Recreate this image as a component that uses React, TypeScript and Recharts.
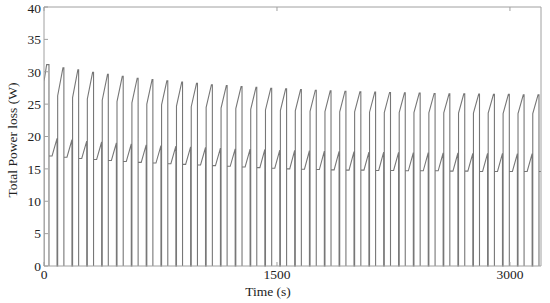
import { LineChart, Line, XAxis, YAxis } from 'recharts'

// times (s) where each tall pulse ends and the next short pulse starts
const dropTimes = [
  32, 128, 223, 319, 414, 510, 606, 701, 797, 892, 988, 1084, 1179, 1275, 1370, 1466, 1562,
  1657, 1753, 1848, 1944, 2040, 2135, 2231, 2326, 2422, 2518, 2613, 2709, 2804, 2900, 2996,
  3091, 3187,
]

// tall pulse: level after the vertical rise, and peak reached before the drop
const tallKink = [
  28.5, 26.3, 26.0, 25.8, 25.6, 25.4, 25.2, 25.0, 24.9, 24.7, 24.6, 24.5, 24.4, 24.3, 24.2, 24.1,
  24.0, 23.95, 23.9, 23.85, 23.8, 23.8, 23.75, 23.7, 23.7, 23.7, 23.65, 23.65, 23.6, 23.6, 23.6,
  23.55, 23.55, 23.55,
]
const tallPeak = [
  31.1, 30.6, 30.3, 29.9, 29.6, 29.3, 29.0, 28.8, 28.6, 28.4, 28.2, 28.0, 27.85, 27.7, 27.6, 27.45,
  27.35, 27.25, 27.15, 27.05, 27.0, 26.9, 26.85, 26.8, 26.75, 26.7, 26.65, 26.6, 26.6, 26.55, 26.5,
  26.5, 26.45, 26.45,
]

// short pulse: flat level, then peak before dropping
const shortLevel = [
  17.0, 16.8, 16.6, 16.45, 16.3, 16.15, 16.0, 15.9, 15.8, 15.7, 15.6, 15.5, 15.4, 15.3, 15.2, 15.1,
  15.0, 14.95, 14.9, 14.85, 14.8, 14.8, 14.75, 14.75, 14.7, 14.7, 14.7, 14.65, 14.65, 14.6, 14.6,
  14.6, 14.6, 14.6,
]
const shortPeak = [
  19.7, 19.5, 19.3, 19.15, 19.0, 18.85, 18.7, 18.6, 18.5, 18.4, 18.3, 18.2, 18.1, 18.05, 18.0, 17.9,
  17.85, 17.8, 17.75, 17.7, 17.65, 17.6, 17.6, 17.55, 17.5, 17.5, 17.45, 17.45, 17.4, 17.4, 17.4,
  17.35, 17.35,
]

// seconds after a drop: short ramp start, short peak, tall rise, tall peak
const phase = [20, 52, 56, 90]
const firstPeakTimes = [17, 28]
const endTime = 3200

const xTicks = [0, 1500, 3000]
const yTicks = [0, 5, 10, 15, 20, 25, 30, 35, 40]

type Pt = { t: number; p: number }

function buildSeries(): Pt[] {
  const pts: Pt[] = [
    { t: 0, p: 0 },
    { t: 0, p: tallKink[0] },
    { t: firstPeakTimes[0], p: tallPeak[0] },
    { t: firstPeakTimes[1], p: tallPeak[0] },
  ]
  dropTimes.forEach((d, k) => {
    pts.push({ t: d, p: k === 0 ? tallPeak[0] : tallPeak[k] })
    pts.push({ t: d, p: 0 })
    pts.push({ t: d, p: shortLevel[k] })
    if (k < dropTimes.length - 1) {
      pts.push({ t: d + phase[0], p: shortLevel[k] })
      pts.push({ t: d + phase[1], p: shortPeak[k] })
      pts.push({ t: d + phase[1], p: 0 })
      pts.push({ t: d + phase[2], p: 0 })
      pts.push({ t: d + phase[2], p: tallKink[k + 1] })
      pts.push({ t: d + phase[3], p: tallPeak[k + 1] })
    } else {
      pts.push({ t: endTime, p: shortLevel[k] })
    }
  })
  return pts
}

const data = buildSeries()

const font = '"Liberation Serif", "DejaVu Serif", serif'
const axisColor = '#a0a0a0'
const tickStyle = { fill: '#222', fontSize: 13.5, fontFamily: font }

export default function App() {
  return (
    <div style={{ position: 'absolute', left: 0, top: 0, background: '#fff' }}>
      <LineChart width={550} height={303} data={data} margin={{ top: 6, right: 8, bottom: 0, left: 0 }}>
        <XAxis
          xAxisId="b"
          dataKey="t"
          type="number"
          domain={[0, endTime]}
          ticks={xTicks}
          allowDataOverflow
          height={37}
          stroke={axisColor}
          tickSize={-4}
          tickMargin={7}
          tick={tickStyle}
          label={() => (
            <text x={268} y={291} textAnchor="middle" dominantBaseline="central" fill="#222" fontSize={13.5} fontFamily={font}>
              Time (s)
            </text>
          )}
        />
        <XAxis
          xAxisId="t"
          orientation="top"
          dataKey="t"
          type="number"
          domain={[0, endTime]}
          ticks={xTicks}
          allowDataOverflow
          height={1}
          stroke={axisColor}
          tickSize={-4}
          tickFormatter={() => ''}
        />
        <YAxis
          yAxisId="l"
          type="number"
          domain={[0, 40]}
          ticks={yTicks}
          width={44}
          stroke={axisColor}
          tickSize={-4}
          tickMargin={7}
          tick={tickStyle}
          label={() => (
            <text
              x={12.5}
              y={140}
              transform="rotate(-90 12.5 140)"
              textAnchor="middle"
              dominantBaseline="central"
              fill="#222"
              fontSize={13.5}
              fontFamily={font}
            >
              Total Power loss (W)
            </text>
          )}
        />
        <YAxis
          yAxisId="r"
          orientation="right"
          type="number"
          domain={[0, 40]}
          ticks={yTicks}
          width={1}
          stroke={axisColor}
          tickSize={-4}
          tickFormatter={() => ''}
        />
        <Line
          xAxisId="b"
          yAxisId="l"
          type="linear"
          dataKey="p"
          stroke="#777"
          strokeWidth={1.1}
          dot={false}
          activeDot={false}
          isAnimationActive={false}
        />
      </LineChart>
    </div>
  )
}
